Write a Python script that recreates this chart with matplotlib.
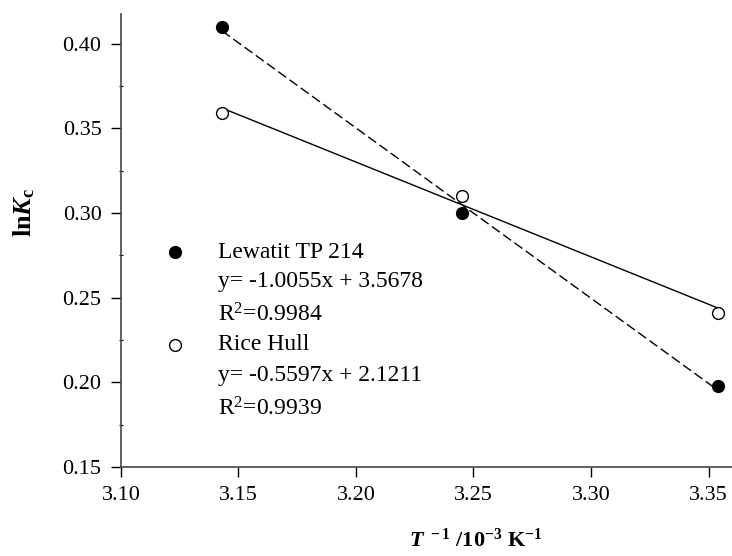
import numpy as np
import matplotlib
matplotlib.use('Agg')
import matplotlib.pyplot as plt

# 1/T (10^-3 K^-1) and lnKc
x = [3.143, 3.245, 3.354]
lewatit = [0.410, 0.300, 0.198]
rice = [0.359, 0.310, 0.241]

# linear fits from the chart
fit_lew = (-1.0055, 3.5678)
fit_rice = (-0.5597, 2.1211)

plt.rcParams['font.family'] = 'Liberation Serif'
plt.rcParams['mathtext.fontset'] = 'custom'
plt.rcParams['mathtext.rm'] = 'Liberation Serif'
plt.rcParams['mathtext.it'] = 'Liberation Serif:italic:bold'
plt.rcParams['mathtext.bf'] = 'Liberation Serif:bold'

fig = plt.figure(figsize=(7.32, 5.56), dpi=100)
ax = fig.add_axes([121/732, 89/556, 611/732, 453/556])

xs = np.array([x[0], x[-1]])
ax.plot(xs, fit_lew[0]*xs + fit_lew[1], color='black', lw=1, ls=(0, (7, 3)))
ax.plot(xs, fit_rice[0]*xs + fit_rice[1], color='black', lw=1)
ax.plot(x, lewatit, 'o', color='black', ms=8.5)
ax.plot(x, rice, 'o', mfc='white', mec='black', mew=1, ms=8.5)

ax.set_xlim(3.10, 3.36)
ax.set_ylim(0.15, 0.4175)
ax.set_xticks([3.10, 3.15, 3.20, 3.25, 3.30, 3.35])
ax.set_yticks([0.15, 0.20, 0.25, 0.30, 0.35, 0.40])
ax.set_yticks(np.arange(0.175, 0.42, 0.05), minor=True)
ax.xaxis.set_major_formatter(matplotlib.ticker.FormatStrFormatter('%.2f'))
ax.yaxis.set_major_formatter(matplotlib.ticker.FormatStrFormatter('%.2f'))
ax.tick_params(which='major', direction='out', length=7, width=1, labelsize=16, pad=7)
ax.tick_params(which='minor', direction='inout', length=3, width=0.8)
for s in ['top', 'right']:
    ax.spines[s].set_visible(False)
for s in ['left', 'bottom']:
    ax.spines[s].set_color('#444444')
    ax.spines[s].set_linewidth(1.2)

ax.set_ylabel(r'$\mathbf{ln}\mathit{K}_\mathbf{c}$', fontsize=19)
ax.yaxis.set_label_coords(-84/611, 0.563)
ax.set_xlabel(r'$\mathit{T}^{\mathbf{\ -1}}\ \mathbf{/10^{-3}\ K^{-1}}$', fontsize=16)
ax.xaxis.set_label_coords(0.581, -62/453)

# legend drawn as text
ax.plot([175/732], [1-252/556], 'o', color='black', ms=8.5,
        transform=fig.transFigure, clip_on=False)
ax.plot([175/732], [1-345/556], 'o', mfc='white', mec='black', mew=1, ms=8.5,
        transform=fig.transFigure, clip_on=False)
lines = [('Lewatit TP 214', 252), ('y= -1.0055x + 3.5678', 282), (r'R$^2$=0.9984', 315),
         ('Rice Hull', 345), ('y= -0.5597x + 2.1211', 376), (r'R$^2$=0.9939', 409)]
for t, yp in lines:
    fig.text(218/732, 1-yp/556, t, fontsize=17, ha='left', va='center')

fig.savefig('out.png', dpi=100)
